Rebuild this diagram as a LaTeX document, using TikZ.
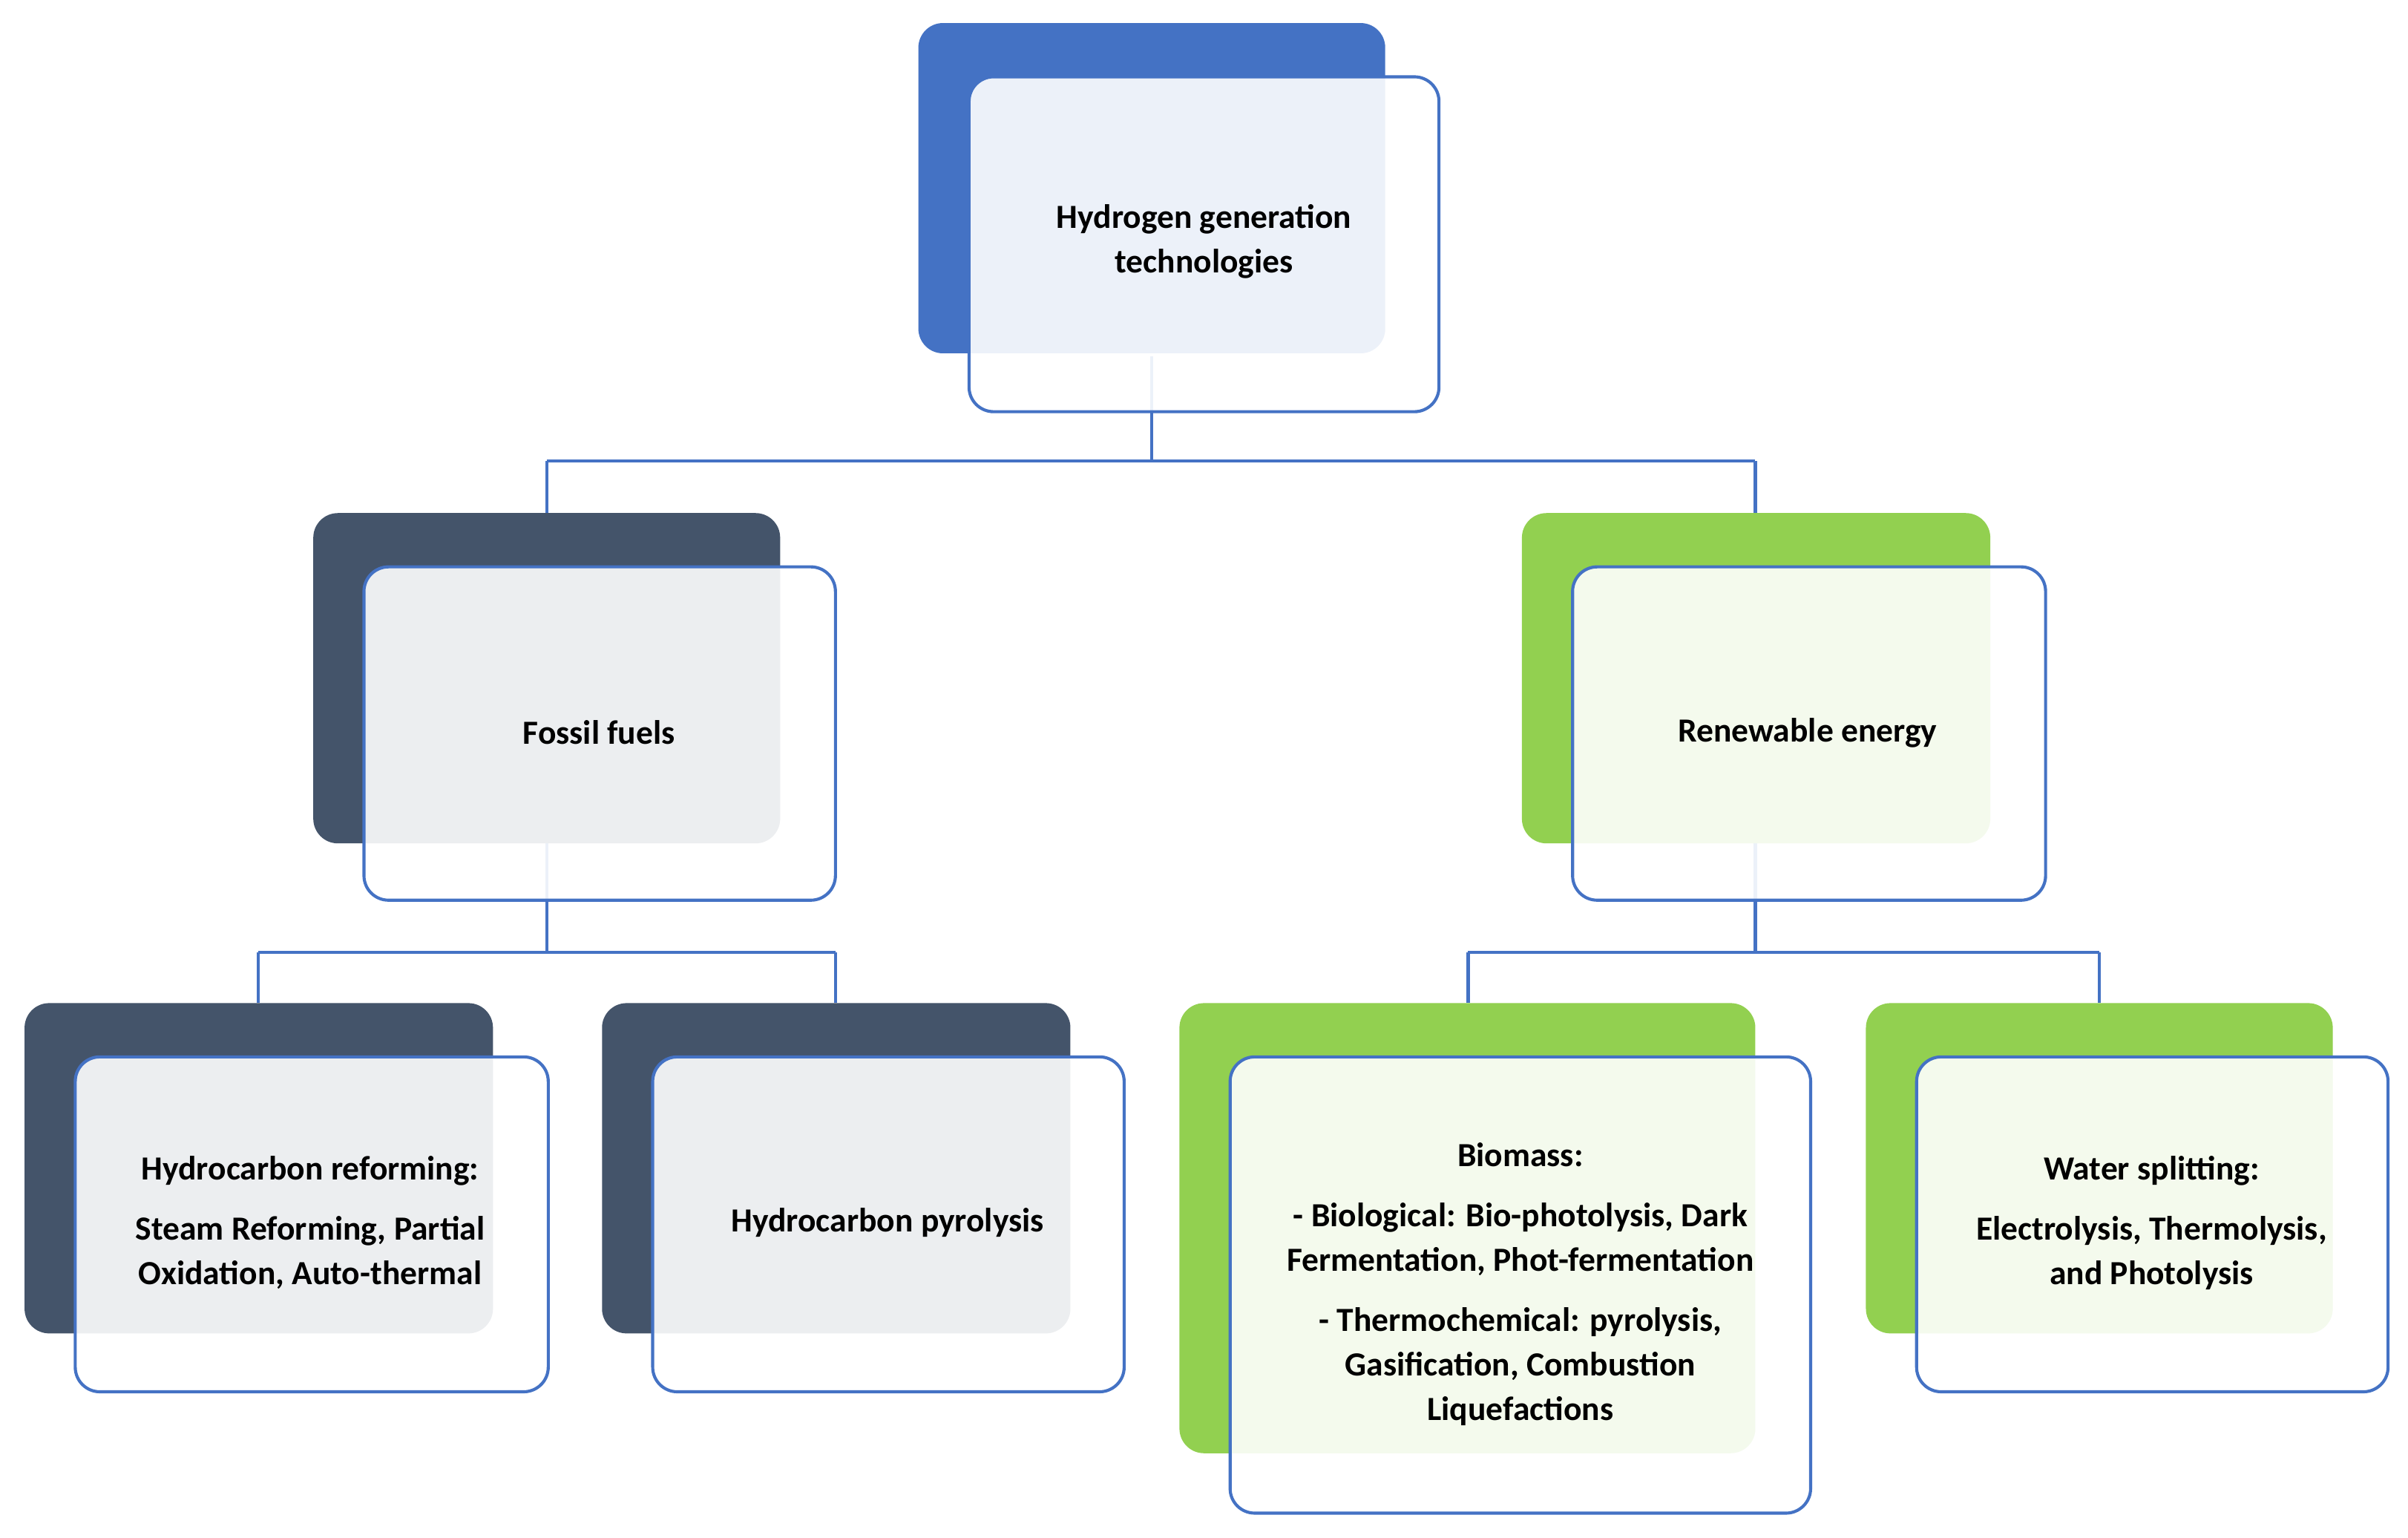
\documentclass[tikz,border=0pt]{standalone}
\usepackage{fontspec}
\setmainfont{Carlito}
\definecolor{cblue}{HTML}{4472C4}
\definecolor{cdark}{HTML}{44546A}
\definecolor{cgreen}{HTML}{92D050}
\begin{document}
\begin{tikzpicture}[x=0.5pt,y=-0.5pt,
  back/.style={rounded corners=8pt},
  front/.style={draw=cblue,line width=1pt,rounded corners=8pt,fill=white,fill opacity=0.9},
  lbl/.style={font=\bfseries\fontsize{11}{14.5}\selectfont,align=center,text=black},
  conn/.style={draw=cblue,line width=1pt}]
\useasboundingbox (0,0) rectangle (1568,1001);
% connectors
\coordinate (t0) at (750,232); \coordinate (t1) at (750,300);
\coordinate (tl) at (356,300); \coordinate (tr) at (1143,300);
\coordinate (tl2) at (356,334); \coordinate (tr2) at (1143,334);
\draw[conn] (t0)--(t1) (tl)--(tr) (tl)--(tl2) (tr)--(tr2);
\coordinate (f0) at (356,549); \coordinate (f1) at (356,620);
\coordinate (fl) at (168,620); \coordinate (fr) at (544,620);
\coordinate (fl2) at (168,653); \coordinate (fr2) at (544,653);
\draw[conn] (f0)--(f1) (fl)--(fr) (fl)--(fl2) (fr)--(fr2);
\coordinate (r0) at (1143,549); \coordinate (r1) at (1143,620);
\coordinate (rl) at (956,620); \coordinate (rr) at (1367,620);
\coordinate (rl2) at (956,653); \coordinate (rr2) at (1367,653);
\draw[conn] (r0)--(r1) (rl)--(rr) (rl)--(rl2) (rr)--(rr2);
% boxes
\fill[back,cblue] (598,15) rectangle (902,230);
\draw[front] (631,50) rectangle (937,268);
\node[lbl] (top) at (784,157) {Hydrogen generation\\technologies};
\fill[back,cdark] (204,334) rectangle (508,549);
\draw[front] (237,369) rectangle (544,586);
\node[lbl] (fos) at (390,477) {Fossil fuels};
\fill[back,cgreen] (991,334) rectangle (1296,549);
\draw[front] (1024,369) rectangle (1332,586);
\node[lbl] (ren) at (1177,477) {Renewable energy};
\fill[back,cdark] (16,653) rectangle (321,868);
\draw[front] (49,688) rectangle (357,906);
\node[lbl] (ref) at (202,796) {Hydrocarbon reforming:\\[5pt]Steam Reforming, Partial\\Oxidation, Auto-thermal};
\fill[back,cdark] (392,653) rectangle (697,868);
\draw[front] (425,688) rectangle (732,906);
\node[lbl] (pyr) at (578,796) {Hydrocarbon pyrolysis};
\fill[back,cgreen] (768,653) rectangle (1143,946);
\draw[front] (801,688) rectangle (1179,985);
\node[lbl] (bio) at (990,836) {Biomass:\\[5pt]- Biological: Bio-photolysis, Dark\\Fermentation, Phot-fermentation\\[5pt]- Thermochemical: pyrolysis,\\Gasification, Combustion\\Liquefactions};
\fill[back,cgreen] (1215,653) rectangle (1519,868);
\draw[front] (1248,688) rectangle (1555,906);
\node[lbl] (wat) at (1401,796) {Water splitting:\\[5pt]Electrolysis, Thermolysis,\\and Photolysis};
\end{tikzpicture}
\end{document}
